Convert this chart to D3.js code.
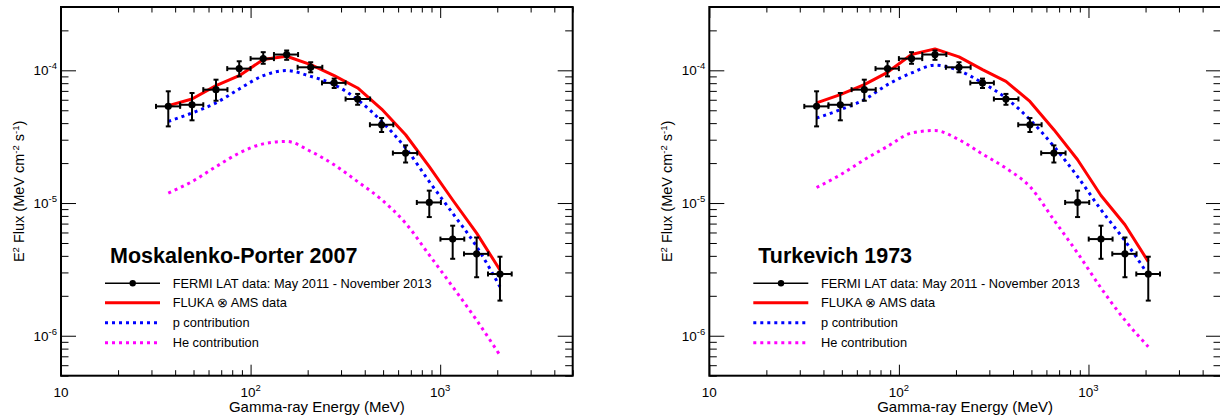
<!DOCTYPE html>
<html>
<head>
<meta charset="utf-8">
<script src="https://cdn.jsdelivr.net/npm/d3@7"></script>
<style>
  html, body { margin: 0; padding: 0; background: #fff; }
  svg { display: block; font-family: "Liberation Sans", Arial, Helvetica, sans-serif; }
</style>
</head>
<body>
<svg id="chart" width="1220" height="415"></svg>
<script>
// ---------- Data ----------
const energy   = [36.8, 49.1, 65.7, 87.1, 116.6, 155, 207.5, 276, 367, 491, 657, 876, 1164, 1557, 2067];
const energyLo = [31.7, 42.5, 56.3, 75.3, 100, 132.8, 177, 238, 317, 426, 563, 753, 1003, 1335, 1787];
const energyHi = [42.5, 56.3, 75.5, 100, 132.8, 178, 239, 317, 427, 566, 757, 1009, 1340, 1793, 2384];
const flux     = [5.35e-5, 5.5e-5, 7.15e-5, 1.03e-4, 1.225e-4, 1.315e-4, 1.054e-4, 8.04e-5, 6.08e-5, 3.89e-5, 2.38e-5, 1.01e-5, 5.35e-6, 4.14e-6, 2.92e-6];
const fluxHi   = [6.95e-5, 6.75e-5, 8.5e-5, 1.17e-4, 1.37e-4, 1.41e-4, 1.15e-4, 8.66e-5, 6.64e-5, 4.37e-5, 2.72e-5, 1.24e-5, 6.75e-6, 5.5e-6, 3.94e-6];
const fluxLo   = [3.78e-5, 4.2e-5, 5.9e-5, 9.0e-5, 1.12e-4, 1.2e-4, 9.66e-5, 7.36e-5, 5.5e-5, 3.43e-5, 2.02e-5, 7.84e-6, 3.8e-6, 2.76e-6, 1.84e-6];

// Moskalenko-Porter 2007 model
const mpTotal = [5.42e-5, 6.08e-5, 7.67e-5, 9.12e-5, 1.205e-4, 1.276e-4, 1.104e-4, 9.12e-5, 7.36e-5, 5.11e-5, 3.27e-5, 1.88e-5, 1.054e-5, 5.93e-6, 3.13e-6];
const mpP     = [4.12e-5, 4.77e-5, 5.68e-5, 7.24e-5, 9.12e-5, 9.95e-5, 9.0e-5, 7.8e-5, 6.01e-5, 4.12e-5, 2.6e-5, 1.45e-5, 8.37e-6, 4.7e-6, 2.34e-6];
const mpHe    = [1.19e-5, 1.45e-5, 1.88e-5, 2.38e-5, 2.79e-5, 2.91e-5, 2.45e-5, 1.94e-5, 1.45e-5, 1.06e-5, 7.05e-6, 4.06e-6, 2.34e-6, 1.31e-6, 7.13e-7];
// Turkevich 1973 model
const tkTotal = [5.68e-5, 6.56e-5, 7.8e-5, 9.66e-5, 1.314e-4, 1.45e-4, 1.262e-4, 1.012e-4, 8.26e-5, 5.83e-5, 3.57e-5, 2.12e-5, 1.14e-5, 6.86e-6, 3.62e-6];
const tkP     = [4.37e-5, 5.05e-5, 6.01e-5, 7.8e-5, 9.55e-5, 1.094e-4, 9.95e-5, 8.04e-5, 6.19e-5, 4.25e-5, 2.67e-5, 1.58e-5, 8.9e-6, 5.19e-6, 2.87e-6];
const tkHe    = [1.31e-5, 1.63e-5, 2.12e-5, 2.67e-5, 3.37e-5, 3.52e-5, 3.0e-5, 2.34e-5, 1.83e-5, 1.33e-5, 7.46e-6, 4.2e-6, 2.29e-6, 1.31e-6, 8.26e-7];

const panelTitles = ["Moskalenko-Porter 2007", "Turkevich 1973"];
const legendLabels = ["FERMI LAT data: May 2011 - November 2013", "FLUKA \u2297 AMS data", "p contribution", "He contribution"];
const xMajorTicks = [10, 100, 1000];
const xTickBase = ["10", "10", "10"];
const xTickExp  = ["", "2", "3"];
const yMajorTicks = [1e-6, 1e-5, 1e-4];
const yTickExp = ["-6", "-5", "-4"];
const xTitle = "Gamma-ray Energy (MeV)";

// ---------- Layout ----------
const W = 511.7, H = 368.7, TOP = 7;
const panelLefts = [61, 709.3];
const svg = d3.select("#chart");

const x = d3.scaleLog().domain([10, 5000]).range([0, W]);
const y = d3.scaleLog().domain([5e-7, 3e-4]).range([H, 0]);

function isMajor(v) { return Math.abs(Math.log10(v) - Math.round(Math.log10(v))) < 1e-9; }

function drawPanel(idx, total, pc, he) {
  const g = svg.append("g").attr("transform", `translate(${panelLefts[idx]},${TOP})`);

  const xAll = x.ticks().filter(v => v >= 10 && v <= 5000);
  const xMin = xAll.filter(v => !isMajor(v));
  const yAll = y.ticks().filter(v => v >= 5e-7 && v <= 3e-4);
  const yMin = yAll.filter(v => !isMajor(v));

  function addAxis(axisFn, scale, vals, size, transform) {
    const a = g.append("g").attr("transform", transform)
      .call(axisFn(scale).tickValues(vals).tickSize(size).tickFormat(""));
    a.select(".domain").remove();
    a.selectAll(".tick line").attr("stroke", "#000").attr("stroke-width", 1);
  }
  addAxis(d3.axisTop, x, xMin, 5.5, `translate(0,${H})`);
  addAxis(d3.axisTop, x, xMajorTicks, 11, `translate(0,${H})`);
  addAxis(d3.axisBottom, x, xMin, 5.5, `translate(0,0)`);
  addAxis(d3.axisBottom, x, xMajorTicks, 11, `translate(0,0)`);
  addAxis(d3.axisRight, y, yMin, 7.5, `translate(0,0)`);
  addAxis(d3.axisRight, y, yMajorTicks, 15, `translate(0,0)`);
  addAxis(d3.axisLeft, y, yMin, 7.5, `translate(${W},0)`);
  addAxis(d3.axisLeft, y, yMajorTicks, 15, `translate(${W},0)`);

  g.append("rect").attr("x", 0).attr("y", 0).attr("width", W).attr("height", H)
    .attr("fill", "none").attr("stroke", "#000").attr("stroke-width", 2);

  xMajorTicks.forEach((v, i) => {
    const t = g.append("text").attr("x", x(v)).attr("y", H + 21)
      .attr("text-anchor", "middle").attr("font-size", 13.5).attr("fill", "#000");
    t.append("tspan").text(xTickBase[i]);
    if (xTickExp[i]) t.append("tspan").attr("dy", -6).attr("font-size", 9.5).text(xTickExp[i]);
  });
  yMajorTicks.forEach((v, i) => {
    const t = g.append("text").attr("x", -4).attr("y", y(v) + 5)
      .attr("text-anchor", "end").attr("font-size", 13.5).attr("fill", "#000");
    t.append("tspan").text("10");
    t.append("tspan").attr("dy", -6).attr("font-size", 9.5).text(yTickExp[i]);
  });

  g.append("text").attr("x", W / 2).attr("y", H + 36)
    .attr("text-anchor", "middle").attr("font-size", 15).attr("fill", "#000").text(xTitle);

  const yt = g.append("text").attr("transform", `translate(-37,${H / 2}) rotate(-90)`)
    .attr("text-anchor", "middle").attr("font-size", 14.5).attr("fill", "#000");
  yt.append("tspan").text("E");
  yt.append("tspan").attr("dy", -5).attr("font-size", 9.5).text("2");
  yt.append("tspan").attr("dy", 5).text(" Flux (MeV cm");
  yt.append("tspan").attr("dy", -5).attr("font-size", 9.5).text("-2");
  yt.append("tspan").attr("dy", 5).text(" s");
  yt.append("tspan").attr("dy", -5).attr("font-size", 9.5).text("-1");
  yt.append("tspan").attr("dy", 5).text(")");

  const lineLin = d3.line().x((d, i) => x(energy[i])).y(d => y(d));
  const lineSmooth = d3.line().x((d, i) => x(energy[i])).y(d => y(d)).curve(d3.curveMonotoneX);

  g.append("path").attr("d", lineSmooth(he)).attr("fill", "none")
    .attr("stroke", "#ff00ff").attr("stroke-width", 3).attr("stroke-dasharray", "3,4");
  g.append("path").attr("d", lineSmooth(pc)).attr("fill", "none")
    .attr("stroke", "#0000ff").attr("stroke-width", 3).attr("stroke-dasharray", "3,4");
  g.append("path").attr("d", lineLin(total)).attr("fill", "none")
    .attr("stroke", "#ff0000").attr("stroke-width", 3).attr("stroke-linejoin", "round");

  const pts = g.append("g");
  energy.forEach((e, i) => {
    const cx = x(e), cy = y(flux[i]);
    const x0 = x(energyLo[i]), x1 = x(energyHi[i]);
    const y0 = y(fluxLo[i]), y1 = y(fluxHi[i]);
    const ln = (a, b, c, d) => pts.append("line").attr("x1", a).attr("y1", b).attr("x2", c).attr("y2", d)
      .attr("stroke", "#000").attr("stroke-width", 2);
    ln(x0, cy, x1, cy);
    ln(cx, y1, cx, y0);
    ln(x0, cy - 2.5, x0, cy + 2.5);
    ln(x1, cy - 2.5, x1, cy + 2.5);
    ln(cx - 2.5, y1, cx + 2.5, y1);
    ln(cx - 2.5, y0, cx + 2.5, y0);
    pts.append("circle").attr("cx", cx).attr("cy", cy).attr("r", 3.6).attr("fill", "#000");
  });

  const lg = g.append("g");
  lg.append("text").attr("x", 49).attr("y", 256.3).attr("font-size", 21.5)
    .attr("font-weight", "bold").attr("fill", "#000").text(panelTitles[idx]);
  const rowsY = [276.3, 295.7, 315.7, 335.7];
  const styles = [
    { c: "#000", w: 1.5, dash: null },
    { c: "#ff0000", w: 3, dash: null },
    { c: "#0000ff", w: 3, dash: "3,4" },
    { c: "#ff00ff", w: 3, dash: "3,4" }
  ];
  legendLabels.forEach((lab, i) => {
    const l = lg.append("line").attr("x1", 44).attr("x2", 99).attr("y1", rowsY[i]).attr("y2", rowsY[i])
      .attr("stroke", styles[i].c).attr("stroke-width", styles[i].w);
    if (styles[i].dash) l.attr("stroke-dasharray", styles[i].dash);
    if (i === 0) lg.append("circle").attr("cx", 71.7).attr("cy", rowsY[i]).attr("r", 3.2).attr("fill", "#000");
    lg.append("text").attr("x", 111.7).attr("y", rowsY[i] + 4.7).attr("font-size", 12.8)
      .attr("fill", "#000").text(lab);
  });
}

drawPanel(0, mpTotal, mpP, mpHe);
drawPanel(1, tkTotal, tkP, tkHe);
</script>
</body>
</html>
